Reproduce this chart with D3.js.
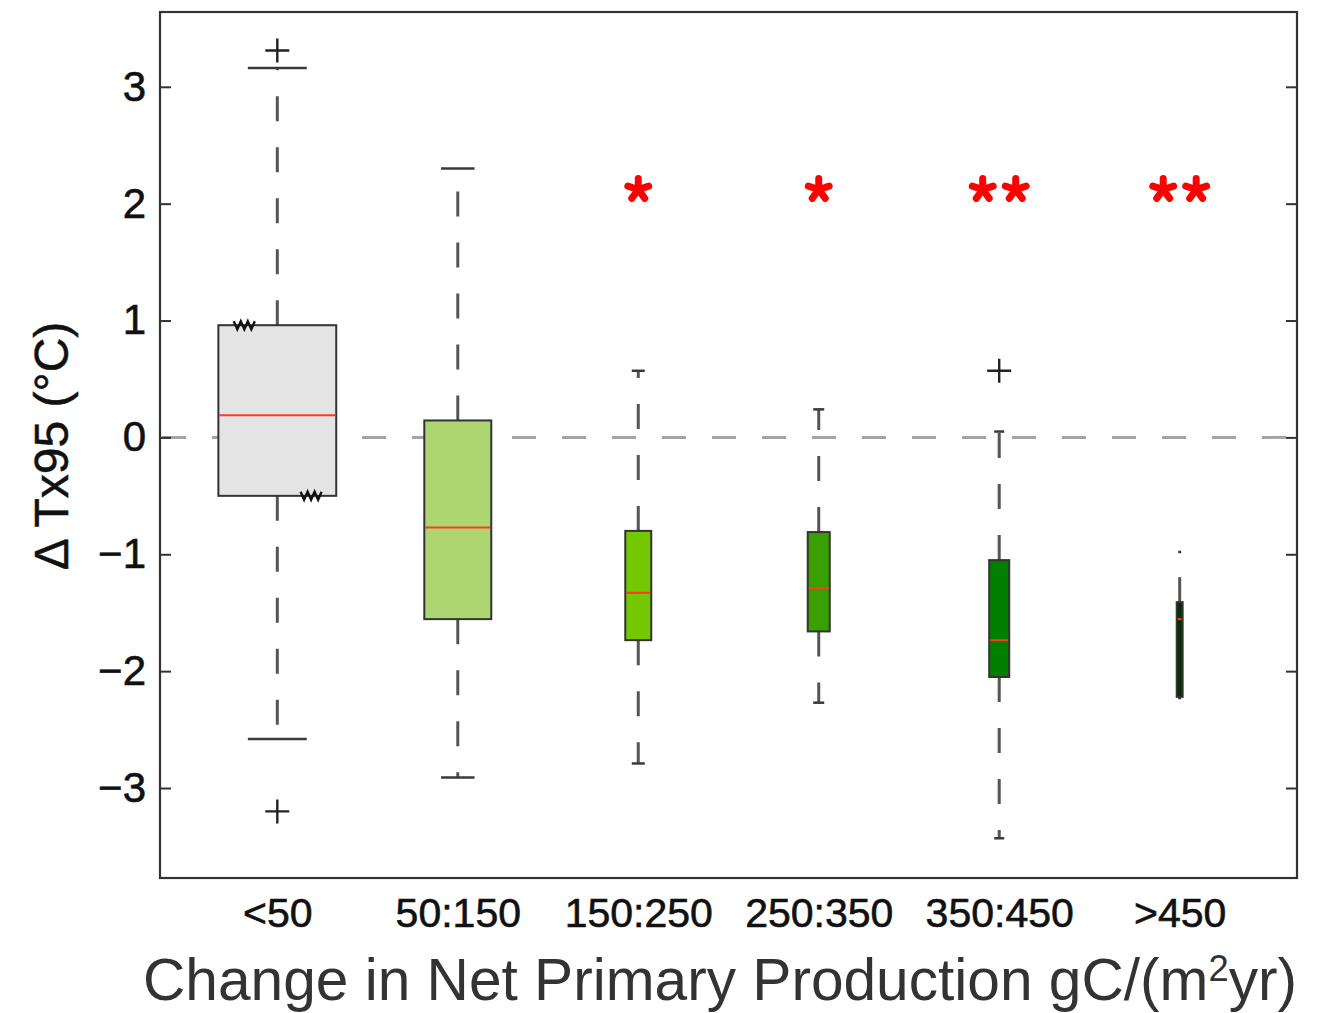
<!DOCTYPE html>
<html>
<head>
<meta charset="utf-8">
<script src="https://cdn.jsdelivr.net/npm/d3@7"></script>
<style>
  body { margin: 0; background: #fff; }
  text { font-family: "Liberation Sans", Arial, Helvetica, sans-serif; }
</style>
</head>
<body>
<svg id="chart" width="1319" height="1013"></svg>
<script>
// ---- data: ΔTx95 distribution per NPP-change class ----
const categories   = ["<50", "50:150", "150:250", "250:350", "350:450", ">450"];
const lowerWhisker = [-2.58, -2.91, -2.79, -2.27, -3.43, -2.23];
const q1           = [-0.50, -1.555, -1.735, -1.66, -2.05, -2.22];
const median       = [0.19, -0.77, -1.33, -1.29, -1.735, -1.555];
const q3           = [0.96, 0.145, -0.80, -0.81, -1.05, -1.41];
const upperWhisker = [3.16, 2.30, 0.57, 0.24, 0.05, -0.98];
const outliers     = [[3.31, -3.20], [], [], [], [0.57], []];
const significance = [0, 0, 1, 1, 2, 2];   // number of stars per class
const starLevel    = 2.13;
const yTicks       = [-3, -2, -1, 0, 1, 2, 3];

// ---- drawing configuration ----
const boxWidths  = [0.653, 0.371, 0.144, 0.122, 0.111, 0.033]; // in class units
const boxColors  = ["#e4e4e4", "#add672", "#74c800", "#38a000", "#007f00", "#033003"];

const svg = d3.select("#chart");
const plotLeft = 160, plotRight = 1297, plotTop = 12, plotBottom = 878;

const x = d3.scaleLinear().domain([0.35, 6.65]).range([plotLeft, plotRight]);
const y = d3.scaleLinear().domain([-3.77, 3.64]).range([plotBottom, plotTop]);

const rows = categories.map((c, i) => ({
  i, pos: i + 1, name: c,
  lo: lowerWhisker[i], q1: q1[i], med: median[i], q3: q3[i], hi: upperWhisker[i],
  out: outliers[i], stars: significance[i], w: boxWidths[i], color: boxColors[i]
}));

// zero reference line
svg.append("line")
  .attr("x1", plotLeft + 2).attr("x2", plotRight)
  .attr("y1", y(0)).attr("y2", y(0))
  .attr("stroke", "#a3a3a3").attr("stroke-width", 3)
  .attr("stroke-dasharray", "24,26");

const g = svg.append("g");
const bx = g.selectAll("g.box").data(rows).join("g").attr("class", "box");

// whiskers (dashed, starting at the box edges)
bx.append("line")
  .attr("x1", d => x(d.pos)).attr("x2", d => x(d.pos))
  .attr("y1", d => y(d.q3)).attr("y2", d => y(d.hi))
  .attr("stroke", "#555").attr("stroke-width", 3).attr("stroke-dasharray", "25,26");
bx.append("line")
  .attr("x1", d => x(d.pos)).attr("x2", d => x(d.pos))
  .attr("y1", d => y(d.q1)).attr("y2", d => y(d.lo))
  .attr("stroke", "#555").attr("stroke-width", 3).attr("stroke-dasharray", "25,26");

// whisker caps
const unit = x(2) - x(1);
["hi", "lo"].forEach(k => {
  bx.append("line")
    .attr("x1", d => x(d.pos) - d.w * unit / 4).attr("x2", d => x(d.pos) + d.w * unit / 4)
    .attr("y1", d => y(d[k])).attr("y2", d => y(d[k]))
    .attr("stroke", "#3a3a3a").attr("stroke-width", 2.5);
});

// boxes
bx.append("rect")
  .attr("x", d => x(d.pos) - d.w * unit / 2)
  .attr("width", d => d.w * unit)
  .attr("y", d => y(d.q3))
  .attr("height", d => y(d.q1) - y(d.q3))
  .attr("fill", d => d.color)
  .attr("stroke", "#333").attr("stroke-width", 2);

// medians
bx.append("line")
  .attr("x1", d => x(d.pos) - d.w * unit / 2 + 1).attr("x2", d => x(d.pos) + d.w * unit / 2 - 1)
  .attr("y1", d => y(d.med)).attr("y2", d => y(d.med))
  .attr("stroke", "#ff3a22").attr("stroke-width", 2);

// notch-limit markers on the first box
const zig = "M-11,-4L-7.5,4L-4,-4L-0.5,4L3,-4L6.5,4L10,-4";
const first = rows[0];
[[first.q3, -0.18], [first.q1, 0.19]].forEach(([v, off]) => {
  svg.append("path")
    .attr("d", zig)
    .attr("transform", `translate(${x(first.pos + off)},${y(v)})`)
    .attr("fill", "none").attr("stroke", "#111").attr("stroke-width", 2.4);
});

// outliers as '+'
const plus = "M-12,0H12M0,-12V12";
bx.each(function(d) {
  d3.select(this).selectAll("path.out").data(d.out).join("path")
    .attr("class", "out")
    .attr("d", plus)
    .attr("transform", v => `translate(${x(d.pos)},${y(v)})`)
    .attr("stroke", "#222").attr("stroke-width", 2.4).attr("fill", "none");
});

// significance stars
function starPath(r) {
  let p = "";
  for (let k = 0; k < 5; k++) {
    const a = -Math.PI / 2 + k * 2 * Math.PI / 5;
    p += `M0,0L${(r * Math.cos(a)).toFixed(2)},${(r * Math.sin(a)).toFixed(2)}`;
  }
  return p;
}
rows.forEach(d => {
  for (let s = 0; s < d.stars; s++) {
    const off = (s - (d.stars - 1) / 2) * 33;
    svg.append("path")
      .attr("d", starPath(11))
      .attr("transform", `translate(${x(d.pos) + off},${y(starLevel) + 1})`)
      .attr("stroke", "#ff0000").attr("stroke-width", 7)
      .attr("stroke-linecap", "round").attr("fill", "none");
  }
});

// frame
svg.append("rect")
  .attr("x", plotLeft).attr("y", plotTop)
  .attr("width", plotRight - plotLeft).attr("height", plotBottom - plotTop)
  .attr("fill", "none").attr("stroke", "#333").attr("stroke-width", 2.2);

// y axes (inner ticks, labels on the left only)
const yAxisL = svg.append("g").attr("transform", `translate(${plotLeft},0)`)
  .call(d3.axisLeft(y).tickValues(yTicks).tickSizeInner(-11).tickSizeOuter(0).tickPadding(14));
const yAxisR = svg.append("g").attr("transform", `translate(${plotRight},0)`)
  .call(d3.axisRight(y).tickValues(yTicks).tickSizeInner(-11).tickSizeOuter(0).tickFormat(""));
[yAxisL, yAxisR].forEach(a => {
  a.select(".domain").remove();
  a.selectAll(".tick line").attr("stroke", "#333").attr("stroke-width", 2);
});
yAxisL.selectAll(".tick text")
  .attr("font-size", 42).attr("fill", "#111")
  .attr("stroke", "#111").attr("stroke-width", 0.6)
  .attr("font-family", "Liberation Sans, Arial, sans-serif");

// x axis labels
const xAxis = svg.append("g").attr("transform", `translate(0,${plotBottom})`)
  .call(d3.axisBottom(x).tickValues(rows.map(d => d.pos))
    .tickFormat((v, i) => categories[i]).tickSize(0).tickPadding(20));
xAxis.select(".domain").remove();
xAxis.selectAll(".tick text")
  .attr("font-size", 41).attr("fill", "#111")
  .attr("stroke", "#111").attr("stroke-width", 0.6)
  .attr("font-family", "Liberation Sans, Arial, sans-serif");

// y title
svg.append("text")
  .attr("transform", `translate(68,446) rotate(-90)`)
  .attr("text-anchor", "middle")
  .attr("font-size", 48).attr("fill", "#111")
  .attr("stroke", "#111").attr("stroke-width", 0.5)
  .text("Δ Tx95 (°C)");

// x title
const xt = svg.append("text")
  .attr("x", 720).attr("y", 1000)
  .attr("text-anchor", "middle")
  .attr("font-size", 56).attr("fill", "#333");
xt.append("tspan").text("Change in Net Primary Production gC/(m");
xt.append("tspan").attr("font-size", 36).attr("dy", -18).text("2");
xt.append("tspan").attr("dy", 18).text("yr)");
const w = xt.node().getComputedTextLength();
const target = 1155;
const fs = 56 * target / w;
xt.attr("font-size", fs);
xt.select("tspan:nth-child(2)").attr("font-size", fs * 0.62).attr("dy", -fs * 0.32);
xt.select("tspan:nth-child(3)").attr("dy", fs * 0.32);
</script>
</body>
</html>
